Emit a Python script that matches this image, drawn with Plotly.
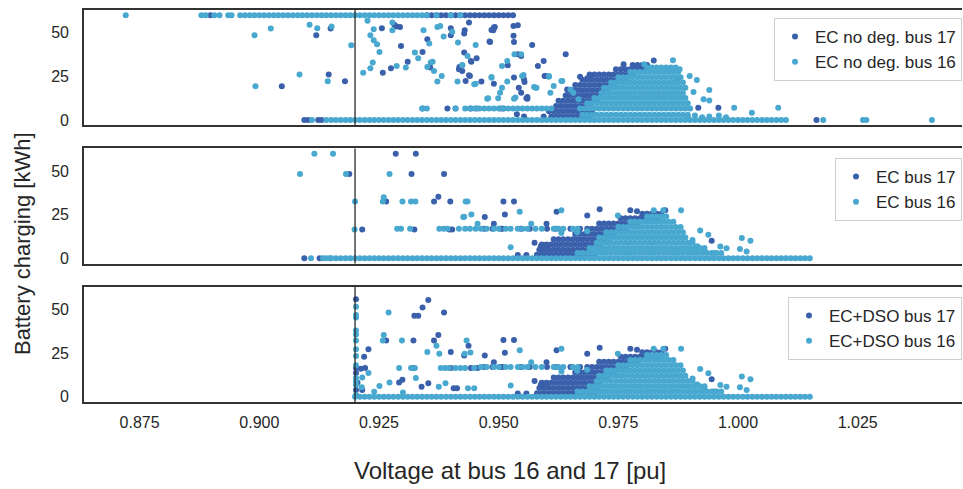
import plotly.graph_objects as go

# ---------------- colours / text ----------------
DARK = "#3a60ab"
LIGHT = "#48a8cf"
TXT = "#262626"

X_TITLE = "Voltage at bus 16 and 17 [pu]"
Y_TITLE = "Battery charging [kWh]"
X_TICKS = [0.875, 0.900, 0.925, 0.950, 0.975, 1.000, 1.025]
Y_TICKS = [0, 25, 50]
V_LIMIT = 0.92

NAMES = [("EC no deg. bus 17", "EC no deg. bus 16"),
         ("EC bus 17", "EC bus 16"),
         ("EC+DSO bus 17", "EC+DSO bus 16")]

# ---------------- data (x in 1/1000 pu, y in kWh) ----------------
# Panel 1: EC no degradation
P1_B17_PTS = [(889.8,60),(904.7,19.3),(911.9,48.6),(914.9,52.4),(914.5,26),(917.9,22.1),
    (928.2,54.5),(929.4,53.3),(925.6,52.6),(925.8,27.1),(927.5,29.6),(929.6,42.4),(931.0,33.4),
    (934.1,39),(935.1,46.3),(935.7,30),(940.0,52.6),(940.0,48.6),(942.9,51.4),(942.8,38.6),
    (945.4,35.3),(944.3,33.4),(941.8,30.3),(942.4,28),(944.0,25.2),(946.4,22),(948.1,44.9),
    (948.9,51.4),(949.2,53.3),(949.0,20.8),(951.9,31.3),(953.2,24.3),(954.2,18.5),(954.7,15.6),
    (955.8,12.4),(955.4,21.7),(953.1,53.9),(954.0,37.6),(957.0,43),(958.2,30.9),(954.0,54.3),
    (949.0,53),(948.5,51.6),(948.2,44.7),(953.1,48.2),(953.2,44.7),(954.7,36.7),(964.0,37.6),
    (959.4,33.8),(959.6,25.2),(967.0,24.8),(968.5,23.9),(969.2,25.2),(956.0,12.2),(964.3,17.5),
    (943.8,55.9),(944.2,33.8),(943.8,25.6),(943.1,22.3),(941.7,29),(928.7,53.6),(942.8,49.6),
    (991.7,7),(995.9,7),(987.1,22.3),(982.4,34),(976.1,31.9),(955.3,23.3),(956,13.1),(959.8,25.2),
    (909.4,0),(910.2,0),(912.3,0),(913,0),(1016.4,0),(953.8,3.2),(955.3,2),(959.4,2)]
P1_B17_ROWS = {
    60: [935,936,937,938,939,940,941,942,943,944,945,946,947,948,949,950,951,952,953],
    6.5: [934.1,939.3,941,944.2,945.4,950.4,951],
    2: [961,962,963,964,965,966,967,968,969],
    5: [960.5,961.5,962.5,963.5,964.5,965.5,966.5,967.5,968.5,969.5],
    8: [962,963,964,965,966,967,968,969],
    11: [962.5,963.5,964.5,965.5,966.5,967.5,968.5,969.5,970.5],
    14: [964,965,966,967,968,969,970,971],
    17: [964.5,965.5,966.5,967.5,968.5,969.5,970.5,971.5,972.5],
    20: [966,967,968,969,970,971,972,973,974],
    23: [967.5,968.5,969.5,970.5,971.5,972.5,973.5,974.5,975.5,976.5],
    26: [969,970,971,972,973,974,975,976,977,978],
    29: [974.5,975.5,976.5,977.5,978.5,979.5,980.5],
    31.5: [978,979,980,981],
}
P1_B16_PTS = [(872.1,60),(887.9,60),(888.8,60),(890.6,60),(891.7,60),(893.5,60),(894.2,60),
    (899.0,48.6),(902.4,52.4),(910.5,54.5),(912.1,52.6),(915.1,53.6),(919.2,42.8),(899.2,19.3),
    (908.4,26),(914.3,22.1),(922.6,56.8),(927.8,55.9),(927.8,51.4),(923.9,52),(923.2,48.6),
    (923.9,45.7),(924.6,43.4),(925.1,39),(923.7,32.9),(923.2,29.6),(921.7,27.1),(928.7,30.9),
    (930.6,30),(932.5,38.6),(933.2,35.3),(934.3,51.4),(935.5,43.8),(936.2,33.4),(935.1,30.3),
    (936.5,28),(938.1,25.2),(937.2,22),(937.2,53.3),(937.8,53.9),(938.5,47.8),(941.5,44.4),
    (943.5,36.7),(945.2,43),(942.4,31.3),(941.4,22),(945.2,20.8),(948.5,24.6),(950.7,30.9),
    (951.8,33.8),(954.9,25.2),(951.8,22),(950.7,18.5),(950.3,15.6),(953.5,12.8),(947.8,12.4),
    (949.9,12.4),(957.4,18.9),(954.7,37.6),(953.3,37.6),(948.5,24.2),(957.9,18.5),(960.5,24.8),
    (963.1,22.3),(960.8,15.6),(965.6,15.6),(947.6,12.2),(953.2,12.2),(940.3,50.5),(935.8,32.9),
    (942.4,31.5),(944.9,20.4),(980.4,31.9),(986.4,34.2),(987.8,29),(989.9,25.2),(991.4,22.9),
    (989.0,18.5),(990.7,16),(994.0,17.1),(992.8,11.8),(994.0,11.2),(999.2,7),(1002.9,4.1),
    (1008.4,7),(957.7,18.5),(961.5,19.4),(963.3,22.3),(965,17.5),(966.7,11.8),(960.5,25.2),
    (955.2,25.7),(1017.8,0),(1026.1,0),(1026.8,0),(1040.5,0),(989.5,2),(991,2.5),(992.5,1.5),
    (994,2),(996,2.5),(997.5,1.5)]
P1_B16_ROWS = {
    60: [896,897,898,899,900,901,902,903,904,905,906,907,908,909,910,911,912,913,914,915,916,917,
         918,919,920,921,922,923,924,925,926,927,928,929,930,931,932,933,934,935,937,940,942],
    0: [911,914,915,916,917,918,919,920,921,922,923,924,925,926,927,928,929,930,931,932,933,934,
        935,936,937,938,939,940,941,942,943,944,945,946,947,948,949,950,951,952,953,954,955,956,
        957,958,959,960,961,962,963,964,965,966,967,968,969,970,971,972,973,974,975,976,977,978,
        979,980,981,982,983,984,985,986,987,988,989,990,991,992,993,994,995,996,997,998,999,1000,
        1001,1002,1003,1004,1005,1006,1007,1008,1009,1010],
    6.5: [934,935,941,943,944,945,946,947,948,949,950,951,952,953,954,955,956,957,958,959,960,961,
          967,968,969,970,971,972,973,974,975,976,977,978,979,980,981,982,983,984,985,986,987,988,
          989,990],
    3: [967.5,968.5,969.5,970.5,971.5,972.5,973.5,974.5,975.5,976.5,977.5,978.5,979.5,980.5,981.5,
        982.5,983.5,984.5,985.5,986.5,987.5,988.5,989.5],
    9.5: [968.5,969.5,970.5,971.5,972.5,973.5,974.5,975.5,976.5,977.5,978.5,979.5,980.5,981.5,
          982.5,983.5,984.5,985.5,986.5,987.5,988.5,989.5],
    12.5: [970,971,972,973,974,975,976,977,978,979,980,981,982,983,984,985,986,987,988,989],
    15.5: [971.5,972.5,973.5,974.5,975.5,976.5,977.5,978.5,979.5,980.5,981.5,982.5,983.5,984.5,
           985.5,986.5,987.5,988.5],
    18.5: [972,973,974,975,976,977,978,979,980,981,982,983,984,985,986,987,988],
    21.5: [973.5,974.5,975.5,976.5,977.5,978.5,979.5,980.5,981.5,982.5,983.5,984.5,985.5,986.5,
           987.5,988.5],
    24.5: [975,976,977,978,979,980,981,982,983,984,985,986,987,988],
    27.5: [977.5,978.5,979.5,980.5,981.5,982.5,983.5,984.5,985.5,986.5,987.5],
    30: [981,982,983,984,985,986,987],
}

# Panels 2 and 3 share the same cloud above ~0.945 pu
P23_B17_PTS = [(947.1,23.7),(949,19.8),(951.3,25.2),(951,32.6),(953.2,32.6),(960,19.8),(962.1,26.7),
    (968.5,24.6),(971.1,28.1),(977.5,27.5),(978.9,27),(984.8,27.5),(958.8,6.8),(960,7.7),
    (955.8,1.9),(954,1.9),(994.5,10.1),(959.1,5.8),(957.5,9)]
P23_B17_ROWS = {
    17: [947,948.7,950.4,950.8,954.6,956.5,960.1,961.9,965,967,
         968.5,969.5,970.5,971.5,972.5,973.5,974.5,975.5,976.5],
    2: [958,959,960,961,962,963,964,965,966,967,968,969,970],
    5: [958.5,959.5,960.5,961.5,962.5,963.5,964.5,965.5,966.5,967.5,968.5,969.5,970.5],
    8: [959,960,961,962,963,964,965,966,967,968,969,970,971],
    11: [961.5,962.5,963.5,964.5,965.5,966.5,967.5,968.5,969.5,970.5,971.5,972.5],
    14: [966,967,968,969,970,971,972,973,974],
    20: [971,972,973,974,975,976,977,978,979],
    23: [975.5,976.5,977.5,978.5,979.5,980.5,981.5,982.5,983.5],
    25.5: [980,981,982,983,984],
}
P23_B16_PTS = [(954.4,26.7),(956.8,19.8),(963.1,27.5),(974.9,24.6),(982.4,27.5),(984.4,27.5),
    (988.1,27.5),(992.1,15.9),(993.8,13.5),(1000.8,11.6),(1002.6,10.1),(1000.4,5.4),(1001.8,3.9),
    (996.3,6.8),(997.6,5.8),(963.1,14.5),(966.4,14.9),(952.5,6.4),(968.5,15.5),(990.5,10.5),
    (991.5,7),(993,4.5),(995,3)]
P23_B16_ROWS = {
    0: [920,921,922,923,924,925,926,927,928,929,930,931,932,933,934,935,936,937,938,939,940,941,
        942,943,944,945,946,947,948,949,950,951,952,953,954,955,956,957,958,959,960,961,962,963,
        964,965,966,967,968,969,970,971,972,973,974,975,976,977,978,979,980,981,982,983,984,985,
        986,987,988,989,990,991,992,993,994,995,996,997,998,999,1000,1001,1002,1003,1004,1005,
        1006,1007,1008,1009,1010,1011,1012,1013,1014,1015],
    17: [946.3,947.5,949,950,951.5,952.5,954,955,956,957.7,959,961.5,962.5,963.5,965.5,966.5],
    3: [966.5,967.5,968.5,969.5,970.5,971.5,972.5,973.5,974.5,975.5,976.5,977.5,978.5,979.5,980.5,
        981.5,982.5,983.5,984.5,985.5,986.5,987.5,988.5,989.5,990.5,991.5,992.5,993.5,994.5,995.5,
        996.5],
    6: [969,970,971,972,973,974,975,976,977,978,979,980,981,982,983,984,985,986,987,988,989,990,
        991,992,993],
    9: [970.5,971.5,972.5,973.5,974.5,975.5,976.5,977.5,978.5,979.5,980.5,981.5,982.5,983.5,984.5,
        985.5,986.5,987.5,988.5,989.5,990.5],
    12: [971,972,973,974,975,976,977,978,979,980,981,982,983,984,985,986,987,988,989],
    15: [972.5,973.5,974.5,975.5,976.5,977.5,978.5,979.5,980.5,981.5,982.5,983.5,984.5,985.5,
         986.5,987.5,988.5],
    18: [975,976,977,978,979,980,981,982,983,984,985,986,987,988],
    21: [977.5,978.5,979.5,980.5,981.5,982.5,983.5,984.5,985.5,986.5],
    24: [981,982,983,984,985],
}

# Panel 2: EC (part below ~0.945 pu)
P2_B17_PTS = [(909.4,0),(912.6,0),(918.8,48.4),(921.5,16.5),(928.5,60),(932.7,60),(931.8,48.4),
    (938.6,48.4),(926.5,32.6),(936.5,32.6),(937.4,35.3),(939.9,32.6),(932.4,16.5),(939.7,16.5),
    (940.3,16.5)]
P2_B16_PTS = [(908.5,48.4),(911.5,60),(915.4,60),(918.1,48.4),(920,32.6),(919.9,16.5),(927.2,48.4),
    (926,35),(925.8,32.6),(929.9,32.6),(931.7,32.6),(932.6,32.6),(943.1,32.6),(943.5,32.6),
    (942.6,23.7),(944.3,25.2),(945.6,19.8),(942.8,23.8)]
P2_B16_ROWS = {
    0: [910.8,913.3,914,914.7,915,916,917,918,919],
    17: [928.8,929.6,931.5,937.6,938.5,939.3,941.7,943,944,945.2],
}

# Panel 3: EC+DSO (part below ~0.945 pu)
P3_B17_PTS = [(920.2,55.9),(920.2,16.5),(920.2,13.6),(920.2,3.9),(935.3,55.5),(934.1,51.2),
    (938.6,48.3),(932.4,46.4),(933.2,46.4),(926.5,32.2),(932.2,32.2),(936.5,32.2),(937.4,35.4),
    (940,25.7),(943.7,29.2),(942.8,23.7),(921.9,23),(922.8,27.3),(921.2,16),(922.1,16.5),
    (920.5,8.2),(921.5,3.9),(929.2,8.2),(929.9,9.7),(933.9,5.8),(935.3,7.8),(940.6,4.9),
    (941.3,4.9),(932.2,16.5),(940,16.5),(944.2,16.5),(945.6,16.5)]
P3_B16_PTS = [(920.2,51.6),(920.2,46.8),(920.2,45.4),(920.2,38),(920.2,35.7),(920.2,32.2),
    (920.2,27.3),(920.2,23.4),(920.2,18.1),(920.2,10.7),(920.2,8.8),(920.2,6.8),(920.2,1),
    (927,48.3),(926,35.4),(925.8,32.2),(929.8,32.2),(937,29.2),(935.1,25.7),(937.6,24.7),
    (942.9,24.7),(943.3,32.2),(944.1,25.3),(922.8,13.6),(921.4,5.4),(925.1,6.2),(927.2,8.2),
    (932.7,10.7),(937.5,5.8),(938.9,7.8),(943.6,4.9),(944.9,4.9),(924,2.9),(930,2.5),(921.5,11)]
P3_B16_ROWS = {
    16.5: [929.2,931.7,932.5,937.9,938.8,939.6,941,942,943,944.9],
}


def collect(point_lists, row_dicts):
    xs, ys = [], []
    for pl in point_lists:
        for x, y in pl:
            xs.append(x / 1000.0)
            ys.append(y)
    for rd in row_dicts:
        for y, xl in rd.items():
            for x in xl:
                xs.append(x / 1000.0)
                ys.append(y)
    return xs, ys


PANELS = [
    (collect([P1_B17_PTS], [P1_B17_ROWS]), collect([P1_B16_PTS], [P1_B16_ROWS])),
    (collect([P2_B17_PTS, P23_B17_PTS], [P23_B17_ROWS]),
     collect([P2_B16_PTS, P23_B16_PTS], [P2_B16_ROWS, P23_B16_ROWS])),
    (collect([P3_B17_PTS, P23_B17_PTS], [P23_B17_ROWS]),
     collect([P3_B16_PTS, P23_B16_PTS], [P3_B16_ROWS, P23_B16_ROWS])),
]

FONT = "Liberation Sans, Arial, Helvetica, sans-serif"
fig = go.Figure()

legend_ids = ["legend", "legend2", "legend3"]
for i, ((d17, d16), (n17, n16)) in enumerate(zip(PANELS, NAMES)):
    ax = "" if i == 0 else str(i + 1)
    for (xs, ys), name, col in ((d17, n17, DARK), (d16, n16, LIGHT)):
        fig.add_trace(go.Scatter(
            x=xs, y=ys, mode="markers", name=name,
            marker=dict(color=col, size=6, line=dict(width=0)),
            xaxis="x" + ax, yaxis="y" + ax, legend=legend_ids[i],
            hoverinfo="skip"))

domains = [[0.7062, 1.0], [0.3531, 0.6469], [0.0, 0.2938]]
AX_LINE = dict(showline=True, linecolor="#333333", linewidth=1.7,
               showgrid=False, zeroline=False)
layout = dict(
    width=963, height=489,
    margin=dict(l=84, r=1, t=10, b=87),
    paper_bgcolor="white", plot_bgcolor="white",
    font=dict(family=FONT, color=TXT, size=16),
    showlegend=True,
)
for i in range(3):
    ax = "" if i == 0 else str(i + 1)
    layout["xaxis" + ax] = dict(
        AX_LINE, mirror=True, range=[0.86338, 1.04679], domain=[0, 1],
        anchor="y" + ax, tickvals=X_TICKS, ticktext=[f"{v:.3f}" for v in X_TICKS],
        showticklabels=(i == 2), ticks="outside" if i == 2 else "", ticklen=5,
        tickcolor="rgba(0,0,0,0)", tickfont=dict(size=16, color=TXT),
        **({} if i == 0 else {"matches": "x"}))
    layout["yaxis" + ax] = dict(
        AX_LINE, mirror=False, range=[-3, 63], domain=domains[i], anchor="x" + ax,
        tickvals=Y_TICKS, ticks="outside", ticklen=10, tickcolor="rgba(0,0,0,0)",
        tickfont=dict(size=16, color=TXT))

legend_tops = [0.9796, 0.6224, 0.2679]
for lid, top in zip(legend_ids, legend_tops):
    layout[lid] = dict(x=1.0, xanchor="right", y=top, yanchor="top",
                       bgcolor="white", bordercolor="#cfcfcf", borderwidth=1,
                       font=dict(size=17, color=TXT, family=FONT))

shapes = []
for i in range(3):
    ax = "" if i == 0 else str(i + 1)
    shapes.append(dict(type="line", xref="x" + ax, yref=f"y{ax} domain",
                       x0=V_LIMIT, x1=V_LIMIT, y0=0, y1=1,
                       line=dict(color="rgba(40,40,40,0.8)", width=1.6), layer="above"))
layout["shapes"] = shapes
layout["annotations"] = [
    dict(text=X_TITLE, xref="paper", yref="paper", x=0.485, y=-0.174,
         xanchor="center", yanchor="middle", showarrow=False,
         font=dict(size=24, color=TXT, family=FONT)),
    dict(text=Y_TITLE, xref="paper", yref="paper", x=-0.0706, y=0.403,
         xanchor="center", yanchor="middle", textangle=-90, showarrow=False,
         font=dict(size=22, color=TXT, family=FONT)),
]
fig.update_layout(**layout)
fig.write_html("out.html", config={"displayModeBar": False},
               post_script="document.body.style.margin='0';document.body.style.overflow='hidden';")
